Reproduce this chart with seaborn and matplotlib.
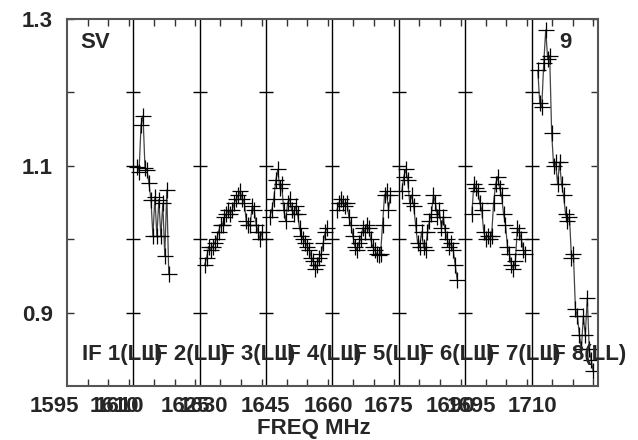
import numpy as np
import pandas as pd
import matplotlib
matplotlib.use('Agg')
import matplotlib.pyplot as plt
import seaborn as sns
from matplotlib.transforms import blended_transform_factory

# bandpass amplitude per IF (SV 9)
if_names = ['IF 1(LL)', 'IF 2(LL)', 'IF 3(LL)', 'IF 4(LL)',
            'IF 5(LL)', 'IF 6(LL)', 'IF 7(LL)', 'IF 8(LL)']
if_edges = [1597.0, 1613.1, 1629.2, 1645.3, 1661.4, 1677.5, 1693.6, 1709.7, 1725.8]
chan_start = [None, 1614.0, 1630.4, 1646.2, 1662.5, 1678.2, 1695.2, 1711.2]
chan_width = 0.48

amp_if1 = []
amp_if2 = [1.099, 1.092, 1.156, 1.168, 1.097, 1.094, 1.076, 1.054, 1.004, 1.058,
           1.004, 1.054, 1.004, 1.049, 0.977, 1.067, 0.953]
amp_if3 = [0.965, 0.975, 0.99, 0.985, 0.99, 0.995, 1.0, 1.01, 1.02, 1.02,
           1.03, 1.035, 1.04, 1.035, 1.04, 1.05, 1.055, 1.06, 1.065, 1.055,
           1.05, 1.025, 1.02, 1.02, 1.045, 1.04, 1.02, 1.01, 1.0, 1.01]
amp_if4 = [1.03, 1.04, 1.055, 1.08, 1.095, 1.07, 1.075, 1.04, 1.025, 1.05,
           1.055, 1.04, 1.035, 1.045, 1.035, 1.015, 1.005, 1.0, 0.995, 0.99,
           0.985, 0.975, 0.97, 0.96, 0.965, 0.975, 0.98, 0.995, 1.01, 1.015]
amp_if5 = [1.04, 1.05, 1.055, 1.05, 1.045, 1.05, 1.03, 1.02, 1.005, 0.99,
           0.985, 0.995, 1.0, 1.015, 1.01, 1.02, 1.015, 1.0, 0.99, 0.985,
           0.98, 0.978, 0.98, 1.02, 1.06, 1.065, 1.04, 1.06]
amp_if6 = [1.065, 1.085, 1.095, 1.08, 1.05, 1.06, 1.045, 1.02, 0.995, 0.99,
           1.01, 0.99, 0.985, 1.01, 1.025, 1.035, 1.06, 1.05, 1.03, 1.04,
           1.015, 1.03, 1.01, 1.0, 0.99, 0.995, 0.985, 0.965, 0.945]
amp_if7 = [1.035, 1.075, 1.07, 1.065, 1.05, 1.04, 1.01, 1.0, 1.005, 1.0,
           1.005, 1.05, 1.075, 1.085, 1.07, 1.06, 1.035, 1.02, 0.99, 0.98,
           0.965, 0.96, 0.97, 1.015, 1.01, 1.0, 0.985, 0.98]
amp_if8 = [1.23, 1.185, 1.18, 1.24, 1.285, 1.245, 1.25, 1.145, 1.10, 1.105,
           1.075, 1.105, 1.075, 1.06, 1.035, 1.025, 1.03, 0.975, 0.98, 0.905,
           0.895, 0.87, 0.85, 0.895, 0.87, 0.92, 0.85, 0.835, 0.82]
amps = [amp_if1, amp_if2, amp_if3, amp_if4, amp_if5, amp_if6, amp_if7, amp_if8]

tick_freqs = [1594.0, 1608.4, 1609.6, 1625.8, 1630.0, 1645.0, 1660.3, 1675.0, 1690.0, 1695.0, 1710.0]
tick_labels = ['1595', '1610', '1610', '1625', '1630', '1645', '1660', '1675', '1690', '1695', '1710']
y_ticks = [0.9, 1.0, 1.1, 1.2, 1.3]
y_labels = ['0.9', '', '1.1', '', '1.3']

rows = []
for name, start, vals in zip(if_names, chan_start, amps):
    for i, v in enumerate(vals):
        rows.append({'IF': name, 'freq': start + chan_width * i, 'amp': v})
df = pd.DataFrame(rows)

sns.set_style('ticks')
plt.rcParams['font.family'] = ['Liberation Sans', 'DejaVu Sans']
plt.rcParams['font.weight'] = 'bold'

fig = plt.figure(figsize=(6.38, 4.40), dpi=100)
ax = fig.add_axes([67 / 638, 54 / 440, 531 / 638, 367 / 440])

sns.lineplot(data=df, x='freq', y='amp', units='IF', estimator=None, sort=False,
             color='#444444', lw=0.9, marker='+', markersize=11,
             markeredgecolor='black', markeredgewidth=0.9, ax=ax)

ax.set_xlim(if_edges[0], if_edges[-1])
ax.set_ylim(0.8, 1.3)

# IF boundaries with cross ticks
for e in if_edges[1:-1]:
    ax.axvline(e, color='black', lw=1)
    ax.plot([e] * 4, y_ticks[:4], ls='none', marker='_', ms=10, mew=1, color='black')

minor = [e + d for e in if_edges[:-1] for d in (5, 10, 15)]
ax.set_xticks(minor)
ax.set_xticklabels([])
ax.set_yticks(y_ticks)
ax.set_yticklabels(y_labels)
ax.tick_params(direction='in', length=5, width=1, top=True, right=True,
               labelsize=16, pad=10, color='#333333')
for s in ax.spines.values():
    s.set_color('#555555')
    s.set_linewidth(1.5)

ax.set_xlabel('')
ax.set_ylabel('')

trans = blended_transform_factory(ax.transData, ax.transAxes)
for f, lab in zip(tick_freqs, tick_labels):
    ax.text(f, -0.055, lab, transform=trans, ha='center', va='center',
            fontsize=16, fontweight='bold', clip_on=False)

for e, name in zip(if_edges[:-1], if_names):
    ax.text(e + 3.6, 0.085, name, transform=trans, ha='left', va='center',
            fontsize=16, fontweight='bold', clip_on=False)

ax.text(0.025, 0.935, 'SV', transform=ax.transAxes, ha='left', va='center',
        fontsize=16, fontweight='bold')
ax.text(0.938, 0.935, '9', transform=ax.transAxes, ha='center', va='center',
        fontsize=16, fontweight='bold')
fig.text(314 / 638, 1 - 428 / 440, 'FREQ MHz', ha='center', va='center',
         fontsize=16, fontweight='bold')

fig.savefig('out.png', dpi=100)
